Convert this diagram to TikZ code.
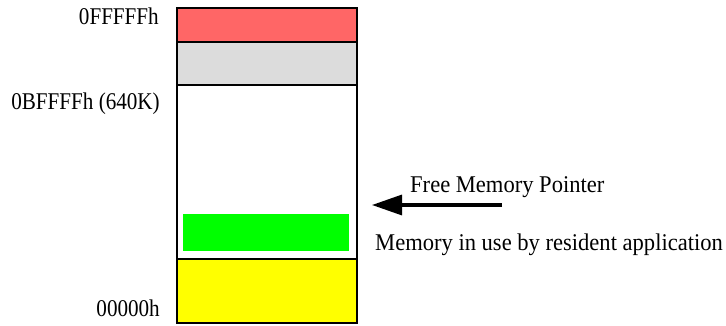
\documentclass[tikz,border=0pt]{standalone}
\usepackage{fontspec}
\setmainfont{Liberation Serif}[FakeStretch=0.94]
\newfontfamily\addrfont{Liberation Serif}[FakeStretch=0.88]
\usetikzlibrary{arrows.meta}
\definecolor{memred}{HTML}{FF6666}
\definecolor{memgray}{HTML}{DCDCDC}
\definecolor{memgreen}{HTML}{00FF00}
\definecolor{memyellow}{HTML}{FFFF00}
\tikzset{
  seg/.style={draw=black, line width=2pt},
  addr/.style={anchor=base east, font=\addrfont\fontsize{24}{28}\selectfont, inner sep=0pt},
  note/.style={anchor=base west, font=\fontsize{24}{28}\selectfont, inner sep=0pt},
}
\begin{document}
\begin{tikzpicture}[x=1pt,y=-1pt]
\useasboundingbox (0,0) rectangle (726,326);
\path[fill=memred] (177,8) rectangle (357,42);
\path[fill=memgray] (177,42) rectangle (357,85);
\path[fill=white] (177,85) rectangle (357,259);
\path[fill=memyellow] (177,259) rectangle (357,323);
\node[fill=memgreen, minimum width=166pt, minimum height=37pt, inner sep=0pt, anchor=north west] (app) at (183,214) {};
\draw[seg] (177,42) -- (357,42);
\draw[seg] (177,85) -- (357,85);
\draw[seg] (177,259) -- (357,259);
\draw[seg] (177,8) rectangle (357,323);
\node[addr] (top) at (159,25) {0FFFFFh};
\node[addr] (k640) at (160,110) {0BFFFFh (640K)};
\node[addr] (zero) at (160,316) {00000h};
\coordinate (ptrstart) at (502,205);
\coordinate (ptrend) at (372,205);
\draw[line width=3.2pt, -{Triangle[length=30pt,width=20pt]}] (ptrstart) -- (ptrend);
\node[note] (fmp) at (410,193) {Free Memory Pointer};
\node[note] (use) at (375,251) {Memory in use by resident application};
\end{tikzpicture}
\end{document}
